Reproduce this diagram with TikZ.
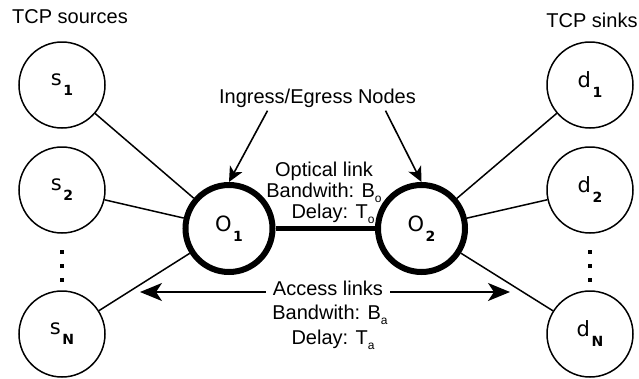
\documentclass[tikz,border=0pt]{standalone}
\usepackage{fontspec}
\setmainfont{Liberation Sans}
\newfontfamily\dejavu{DejaVu Sans}
\usetikzlibrary{arrows.meta, positioning}

% subscripts: bold one for host names, small one for link parameters
\newcommand{\nsub}[1]{\kern1.5pt\raisebox{-10pt}{\fontsize{14}{14}\selectfont\bfseries #1}}
\newcommand{\lsub}[1]{\raisebox{-5pt}{\fontsize{12}{12}\selectfont #1}}

\begin{document}
\begin{tikzpicture}[
	x=1pt,
	y=-1pt,
	font=\fontsize{20}{21}\selectfont,
	host/.style={
		circle,
		draw,
		line width=1.5pt,
		minimum size=86pt,
		inner sep=0pt,
		font=\dejavu\fontsize{21}{21}\selectfont
	},
	edgenode/.style={
		host,
		line width=6pt,
		minimum size=87pt
	},
	link/.style={
		line width=1.5pt
	},
	pointer/.style={
		-{Stealth[length=15pt, width=14pt, inset=4pt]},
		line width=1.6pt
	},
	span/.style={
		-{Stealth[length=22pt, width=18pt, inset=6pt]},
		line width=1.8pt
	}
	]
	\useasboundingbox (0,0) rectangle (639,378);

	% TCP sources on the left, TCP sinks on the right
	\foreach \y/\n in {85/1, 190/2, 334/N} {
		\node[host] (s\n) at (62,\y) {s\nsub{\n}};
		\node[host] (d\n) at (590,\y) {d\nsub{\n}};
	}

	% dots between 2 and N
	\foreach \x in {62,590} {
		\foreach \y in {252,266,280} {
			\fill (\x-2,\y-2) rectangle (\x+2,\y+2);
		}
	}

	% ingress / egress nodes
	\node[edgenode] (O1) at (229,228.5) {O\nsub{1}};
	\node[edgenode] (O2) at (421.5,228.5) {O\nsub{2}};

	% access links
	\foreach \n in {1,2,N} {
		\draw[link] (s\n) -- (O1);
		\draw[link] (d\n) -- (O2);
	}

	% optical link
	\draw[line width=4.5pt] (O1) -- (O2);

	% titles
	\node[anchor=base] (src) at (70,23) {TCP sources};
	\node[anchor=base] (snk) at (592,27) {TCP sinks};
	\node[anchor=base] (ing) at (317.5,103) {Ingress/Egress Nodes};

	\draw[pointer] ([xshift=-50pt]ing.south) -- (O1.north);
	\draw[pointer] ([xshift=68pt]ing.south) -- (O2.north);

	% link parameters
	\node[align=center] (opt) at (324,193) {Optical link\\Bandwith: B\lsub{o}\\\hspace*{18pt}Delay: T\lsub{o}};

	\node[anchor=base, inner xsep=7pt] (acc) at (328,295) {Access links};
	\node[align=center, font=\fontsize{20}{25}\selectfont] (accinfo) at (330,327.5) {Bandwith: B\lsub{a}\\\hspace*{6pt}Delay: T\lsub{a}};

	\coordinate (accL) at (140,292);
	\coordinate (accR) at (510,292);
	\draw[span] (acc.west |- accL) -- (accL);
	\draw[span] (acc.east |- accR) -- (accR);
\end{tikzpicture}
\end{document}
